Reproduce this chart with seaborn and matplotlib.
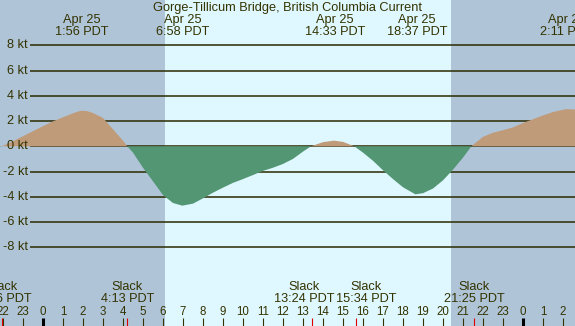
import pandas as pd
import seaborn as sns
import matplotlib
matplotlib.use('Agg')
import matplotlib.pyplot as plt

# current speed (kt), hours relative to Apr 25 00:00 PDT
hours = [-2.15, -2.067, -1.5, -1.0, -0.5, 0.0, 0.5, 1.0, 1.5, 1.8, 1.933, 2.2, 2.5, 3.0, 3.5, 4.0,
         4.217, 4.5, 5.0, 5.5, 6.0, 6.5, 6.967, 7.5, 8.0, 8.5, 9.0, 9.5, 10.0, 10.5,
         11.0, 11.5, 12.0, 12.5, 13.0, 13.4, 14.0, 14.55, 15.0, 15.567, 16.0, 16.5,
         17.0, 17.5, 18.0, 18.617, 19.0, 19.5, 20.0, 20.5, 21.0, 21.417, 22.0, 22.5,
         23.0, 23.5, 24.0, 24.5, 25.0, 25.5, 26.0, 26.183, 26.6]
speed = [-0.05, 0.0, 0.4, 0.8, 1.2, 1.6, 1.98, 2.3, 2.62, 2.78, 2.82, 2.8, 2.64, 2.25, 1.35, 0.45,
         0.0, -0.5, -1.7, -2.78, -3.87, -4.5, -4.71, -4.55, -4.13, -3.68, -3.28, -2.9, -2.6, -2.28,
         -1.95, -1.7, -1.4, -1.0, -0.42, 0.0, 0.33, 0.45, 0.35, 0.0, -0.5, -1.15,
         -1.9, -2.6, -3.25, -3.81, -3.72, -3.35, -2.7, -1.85, -0.9, 0.0, 0.75, 1.08,
         1.28, 1.5, 1.85, 2.15, 2.45, 2.72, 2.9, 2.95, 2.92]

peak_hours = [1.933, 6.967, 14.6, 18.7, 26.183]
peak_dates = ['Apr 25', 'Apr 25', 'Apr 25', 'Apr 25', 'Apr 26']
peak_labels = ['1:56 PDT', '6:58 PDT', '14:33 PDT', '18:37 PDT', '2:11 PDT']

slack_hours = [-2.067, 4.217, 13.45, 15.65, 21.55]
slack_text_hours = [-2.067, 4.217, 13.04, 16.15, 21.57]
slack_labels = ['21:56 PDT', '4:13 PDT', '13:24 PDT', '15:34 PDT', '21:25 PDT']

kt_levels = [8, 6, 4, 2, 0, -2, -4, -6, -8]
hour_ticks = list(range(-2, 27))
sunrise, sunset = 6.1, 20.4
TITLE = 'Gorge-Tillicum Bridge, British Columbia Current'

NIGHT = '#b0c4d8'
DAY = '#dff7ff'
FLOOD = '#bf9b7a'
EBB = '#529673'
INK = '#333300'


def draw(df):
    fig = plt.figure(figsize=(5.75, 3.26), dpi=100)
    ax = fig.add_axes([0, 0, 1, 1])
    x0, x1 = -2.15, 26.6
    ax.set_xlim(x0, x1)
    ax.set_ylim(-14.26, 11.61)
    ax.set_axis_off()

    ax.axvspan(x0, x1, color=DAY, zorder=0, lw=0)
    ax.axvspan(x0, sunrise, color=NIGHT, zorder=0, lw=0)
    ax.axvspan(sunset, x1, color=NIGHT, zorder=0, lw=0)

    ax.hlines(kt_levels, -0.65, x1, color='#2a2a00', lw=1.1, zorder=1)
    for k in kt_levels:
        ax.text(-0.75, k, f'{k} kt', ha='right', va='center', fontsize=9.2, color=INK)

    ax.fill_between(df.hour, df.speed, 0, where=df.speed >= 0, interpolate=True,
                    color=FLOOD, lw=0, zorder=2)
    ax.fill_between(df.hour, df.speed, 0, where=df.speed <= 0, interpolate=True,
                    color=EBB, lw=0, zorder=2)

    ax.text(12.225, 11.0, TITLE, ha='center', va='center', fontsize=9.2, color=INK, zorder=3)
    for h, d, t in zip(peak_hours, peak_dates, peak_labels):
        ax.text(h, 10.02, d, ha='center', va='center', fontsize=9.2, color=INK, zorder=3)
        ax.text(h, 9.09, t, ha='center', va='center', fontsize=9.2, color=INK, zorder=3)

    for h, t in zip(slack_text_hours, slack_labels):
        ax.text(h, -11.2, 'Slack', ha='center', va='center', fontsize=9.2, color=INK, zorder=3)
        ax.text(h, -12.15, t, ha='center', va='center', fontsize=9.2, color=INK, zorder=3)

    for h in hour_ticks:
        ax.text(h, -13.13, str(h % 24), ha='center', va='center', fontsize=8.3, color=INK, zorder=3)
        if h % 24 == 0:
            ax.vlines(h, -14.26, -13.6, color='black', lw=2.2, zorder=3)
        else:
            ax.vlines(h, -14.26, -13.6, color=INK, lw=0.8, zorder=3)
    ax.vlines(slack_hours, -14.26, -13.6, color='#e00000', lw=0.8, zorder=4)

    fig.savefig('out.png', dpi=100)


if __name__ == '__main__':
    sns.set_theme(style='white')
    plt.rcParams['font.family'] = ['Liberation Sans', 'DejaVu Sans']
    df = pd.DataFrame({'hour': hours, 'speed': speed})
    draw(df)
